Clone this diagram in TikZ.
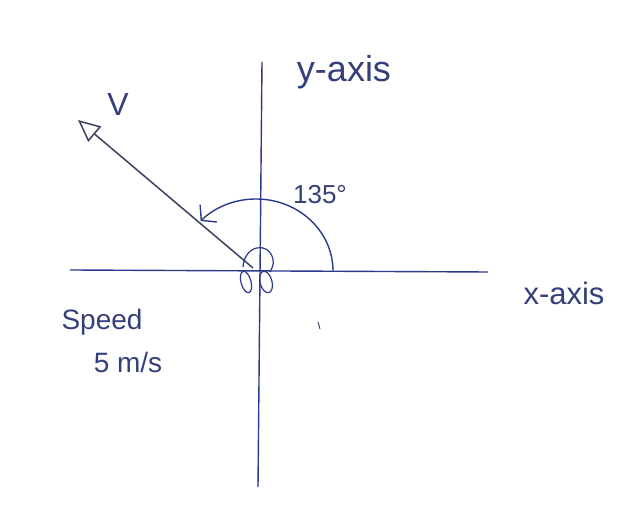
\documentclass[tikz,border=0pt]{standalone}
\usepackage{fontspec}
\setmainfont{Liberation Sans}
\usetikzlibrary{arrows.meta}
\definecolor{ink}{HTML}{2C3A8C}
\definecolor{pencil}{HTML}{3A4260}
\definecolor{txt}{HTML}{35407A}
\tikzset{
  axisline/.style={ink, line width=1.4pt},
  vecline/.style={pencil, line width=1.5pt},
  hand/.style={txt, font=\fontsize{24}{26}\selectfont, inner sep=0pt},
}
\begin{document}
\begin{tikzpicture}[x=1pt,y=1pt]
\useasboundingbox (0,0) rectangle (640,508);
\fill[white] (0,0) rectangle (640,508);
% coordinates (y up: Y = 508 - screen y)
\coordinate (O) at (256,238);
\coordinate (xl) at (70,238);
\coordinate (xr) at (488,236);
\coordinate (yt) at (262,446);
\coordinate (yb) at (258,21);
\coordinate (vtip) at (78,388);
% axes
\draw[axisline] (xl) -- (xr);
\draw[axisline] (yt) -- (yb);
% vector
\draw[vecline, -{Triangle[open, length=22pt, width=20pt, line width=1.5pt]}] (253,240) -- (vtip);
% angle arc
\draw[ink, line width=1.4pt, -{Straight Barb[length=10pt, width=24pt, line width=1.4pt]}]
  (333,237) arc[start angle=0, end angle=136, x radius=77, y radius=72];
% small loop at origin
\draw[ink, line width=1.2pt] (243,241) .. controls (244,262) and (268,268) .. (273,249) .. controls (274,243) and (272,240) .. (270,236);
\draw[ink, line width=1.2pt, rotate around={15:(246,226)}] (246,226) ellipse[x radius=5, y radius=11];
\draw[ink, line width=1.2pt, rotate around={15:(266,226)}] (266,226) ellipse[x radius=6, y radius=11];
% stray mark
\draw[pencil, line width=1pt] (318,186) -- (320,179);
% labels
\node[hand, font=\fontsize{36}{38}\selectfont] (ylab) at (344,436) {y-axis};
\node[hand, font=\fontsize{31}{33}\selectfont] (xlab) at (564,215) {x-axis};
\node[hand, font=\fontsize{32}{34}\selectfont] (vlab) at (118,404) {V};
\node[hand, font=\fontsize{26}{28}\selectfont] (anglab) at (320,313) {135°};
\node[hand, font=\fontsize{28}{30}\selectfont] (sp) at (102,186) {Speed};
\node[hand, font=\fontsize{28}{30}\selectfont] (sp2) at (128,146) {5 m/s};
\end{tikzpicture}
\end{document}
